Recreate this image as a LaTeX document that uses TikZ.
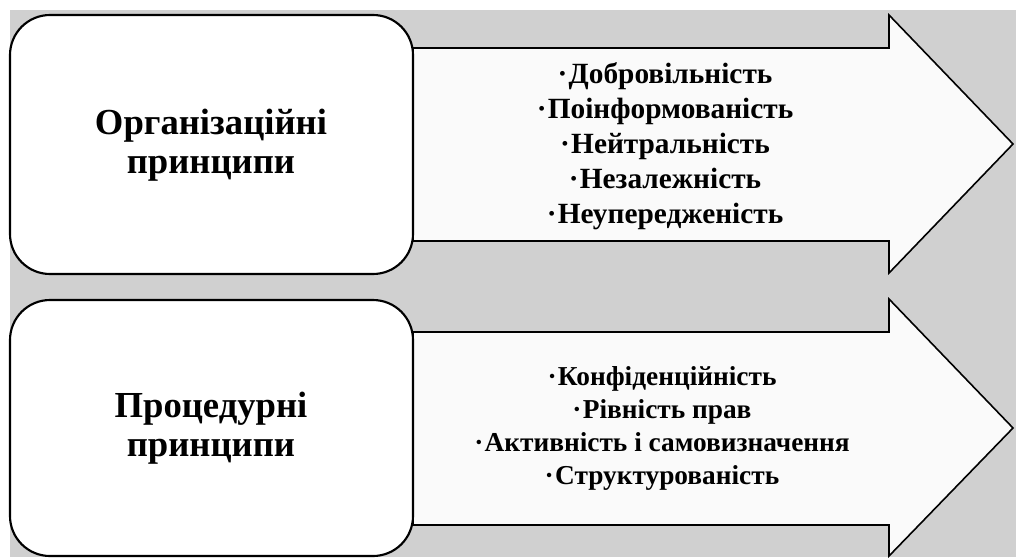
\documentclass[tikz,border=0pt]{standalone}
\usepackage{fontspec}
\setmainfont{Liberation Serif}[BoldFont={Liberation Serif Bold}]
\tikzset{every picture/.style={/utils/exec={\bfseries}}}
\definecolor{backgray}{HTML}{D0D0D0}
\definecolor{arrowwhite}{HTML}{FAFAFA}
\newcommand{\bul}{·\kern1pt}
\tikzset{box/.style={fill=white, draw=black, line width=1.6pt, rounded corners=30pt}}
\tikzset{bigarrow/.style={fill=arrowwhite, draw=black, line width=1.2pt, line join=miter}}
\tikzset{title/.style={align=center, inner sep=0pt, font=\fontsize{27.5}{29.25}\selectfont}}
\tikzset{items/.style={align=center, inner sep=0pt, font=\fontsize{22}{26.25}\selectfont}}

\begin{document}
\begin{tikzpicture}[x=0.75pt, y=-0.75pt]
    \useasboundingbox (0,0) rectangle (1016,557);
    \fill [backgray] (10,10) rectangle (1016,557);
    % organisational principles
    \draw [bigarrow] (413,48) -- (889,48) -- (889,15) -- (1013,144) -- (889,273) -- (889,241) -- (413,241) -- cycle;
    \draw [box] (10,15) rectangle (413,274);
    \node [title] (org) at (211,145) {Організаційні\\принципи};
    \node [items] (orglist) at (665,146) {\bul Добровільність\\\bul Поінформованість\\\bul Нейтральність\\\bul Незалежність\\\bul Неупередженість};
    % procedural principles
    \draw [bigarrow] (413,332) -- (889,332) -- (889,299) -- (1013,428) -- (889,556) -- (889,525) -- (413,525) -- cycle;
    \draw [box] (10,300) rectangle (413,556);
    \node [title] (proc) at (211,428) {Процедурні\\принципи};
    \node [items, font=\fontsize{20.5}{24.75}\selectfont] (proclist) at (662,428) {\bul Конфіденційність\\\bul Рівність прав\\\bul Активність і самовизначення\\\bul Структурованість};
\end{tikzpicture}
\end{document}
